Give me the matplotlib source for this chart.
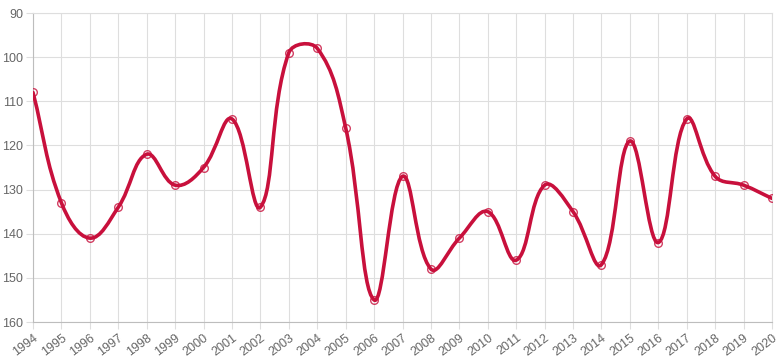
import matplotlib
matplotlib.use("Agg")
import matplotlib.pyplot as plt
from matplotlib.path import Path
from matplotlib.patches import PathPatch
import numpy as np

years = list(range(1994, 2021))
values = [108, 133, 141, 134, 122, 129, 125, 114, 134, 99, 98, 116, 155, 127,
          148, 141, 135, 146, 129, 135, 147, 119, 142, 114, 127, 129, 132]

line_col = "#c8103c"
grid_col = "#dedede"
text_col = "#666666"

plt.rcParams["font.family"] = ["Liberation Sans", "DejaVu Sans"]

W, H = 779, 364
fig = plt.figure(figsize=(W / 100, H / 100), dpi=100)
ax = fig.add_axes([33 / W, (H - 322) / H, (772 - 33) / W, (322 - 13) / H])

x = np.arange(len(years), dtype=float)
y = np.array(values, dtype=float)

# chart.js style bezier (tension 0.4), computed in pixel space
sx = (772 - 33) / (len(years) - 1)
sy = (322 - 13) / 70.0
px, py = x * sx, y * sy
t = 0.4
n = len(px)
cp_prev = np.zeros((n, 2))
cp_next = np.zeros((n, 2))
for i in range(n):
    p0 = (px[max(i - 1, 0)], py[max(i - 1, 0)])
    p1 = (px[i], py[i])
    p2 = (px[min(i + 1, n - 1)], py[min(i + 1, n - 1)])
    d01 = np.hypot(p1[0] - p0[0], p1[1] - p0[1])
    d12 = np.hypot(p2[0] - p1[0], p2[1] - p1[1])
    s01 = d01 / (d01 + d12) if d01 + d12 else 0
    s12 = d12 / (d01 + d12) if d01 + d12 else 0
    fa, fb = t * s01, t * s12
    cp_prev[i] = (p1[0] - fa * (p2[0] - p0[0]), p1[1] - fa * (p2[1] - p0[1]))
    cp_next[i] = (p1[0] + fb * (p2[0] - p0[0]), p1[1] + fb * (p2[1] - p0[1]))

verts = [(x[0], y[0])]
codes = [Path.MOVETO]
for i in range(1, n):
    verts += [(cp_next[i - 1][0] / sx, cp_next[i - 1][1] / sy),
              (cp_prev[i][0] / sx, cp_prev[i][1] / sy),
              (x[i], y[i])]
    codes += [Path.CURVE4] * 3
ax.add_patch(PathPatch(Path(verts, codes), facecolor="none", edgecolor=line_col,
                       lw=2.6, zorder=3, capstyle="round", joinstyle="round"))
ax.plot(x, y, linestyle="none", marker="o", ms=5.5, mfc="none", mec=line_col,
        mew=1.0, zorder=4, alpha=0.8)

ax.set_xlim(0, len(years) - 1)
ax.set_ylim(160, 90)
ax.set_yticks(range(90, 161, 10))
ax.set_xticks(x)
ax.set_xticklabels([str(v) for v in years], rotation=37, ha="right",
                   rotation_mode="anchor")
ax.grid(True, color=grid_col, lw=0.8)
ax.set_axisbelow(True)
for s in ax.spines.values():
    s.set_color(grid_col)
    s.set_linewidth(0.8)
ax.spines["left"].set_color("#bdbdbd")
ax.spines["bottom"].set_color("#bdbdbd")
ax.tick_params(axis="both", colors=grid_col, labelcolor=text_col, labelsize=9,
               length=5, width=0.8, pad=2)
ax.tick_params(axis="y", pad=2)

fig.savefig("out.png", dpi=100)
